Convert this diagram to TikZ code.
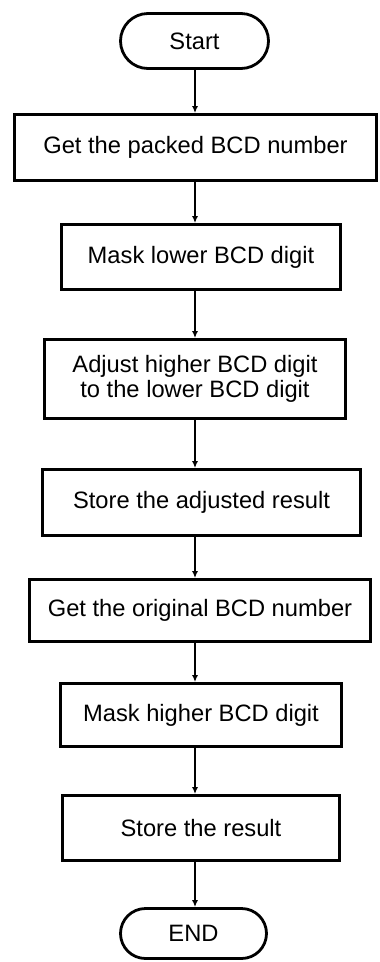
\documentclass[tikz,border=0pt]{standalone}
\usepackage{fontspec}
\setmainfont{Liberation Sans}
\usetikzlibrary{arrows.meta,shapes.misc}

\begin{document}
\begin{tikzpicture}[x=1pt,y=-1pt,thick,line cap=round]
	\tikzstyle{box}=[draw,line width=2.8pt,rectangle,align=center,inner sep=0pt,font=\fontsize{23.7}{25}\selectfont];
	\tikzstyle{term}=[box,rounded rectangle];
	\tikzstyle{flow}=[line width=1.8pt,-{Latex[length=7pt,width=6pt]}];
	\useasboundingbox (0,0) rectangle (380,962);
	%% terminals
	\node[term,minimum width=148pt,minimum height=55pt] (start) at (194.5,41)  {Start};
	\node[term,minimum width=146pt,minimum height=50pt] (end)   at (193.5,933.5) {END};
	%% steps
	\node[box,minimum width=362pt,minimum height=66pt] (get)    at (195.5,147.5) {Get the packed BCD number};
	\node[box,minimum width=279pt,minimum height=65pt] (masklo) at (201,257)     {Mask lower BCD digit};
	\node[box,minimum width=301pt,minimum height=79pt] (adjust) at (195,379)     {Adjust higher BCD digit\\to the lower BCD digit};
	\node[box,minimum width=318pt,minimum height=66pt] (storea) at (201.5,502.5) {Store the adjusted result};
	\node[box,minimum width=341pt,minimum height=62pt] (getorg) at (200,610.5)   {Get the original BCD number};
	\node[box,minimum width=281pt,minimum height=63pt] (maskhi) at (201,715)     {Mask higher BCD digit};
	\node[box,minimum width=277pt,minimum height=65pt] (store)  at (201,828)     {Store the result};
	%% flow
	\coordinate (spine) at (195,0);
	\draw[flow] (start.south  -| spine) -- (get.north    -| spine);
	\draw[flow] (get.south    -| spine) -- (masklo.north -| spine);
	\draw[flow] (masklo.south -| spine) -- (adjust.north -| spine);
	\draw[flow] (adjust.south -| spine) -- (storea.north -| spine);
	\draw[flow] (storea.south -| spine) -- (getorg.north -| spine);
	\draw[flow] (getorg.south -| spine) -- (maskhi.north -| spine);
	\draw[flow] (maskhi.south -| spine) -- (store.north  -| spine);
	\draw[flow] (store.south  -| spine) -- (end.north    -| spine);
\end{tikzpicture}
\end{document}
